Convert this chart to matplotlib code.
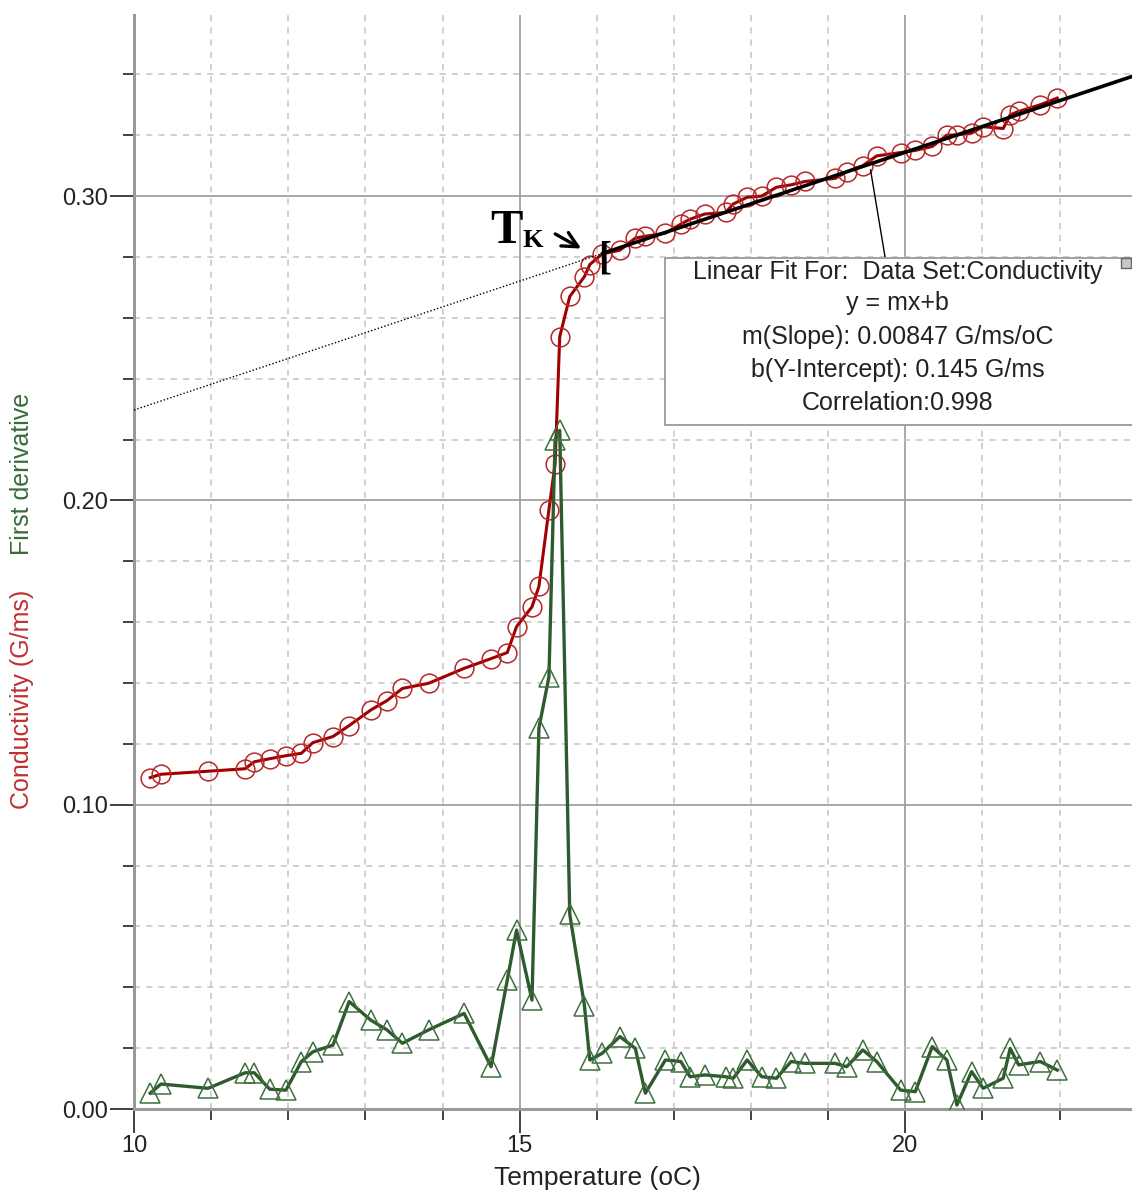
import matplotlib as mpl
mpl.use('Agg')
import matplotlib.pyplot as plt
from matplotlib.patches import Rectangle
from matplotlib.ticker import MultipleLocator, FixedLocator

plt.rcParams['font.family'] = ['Liberation Sans', 'DejaVu Sans']

# Data
temperature = [10.21, 10.35, 10.96, 11.44, 11.56, 11.76, 11.97, 12.17, 12.32, 12.58,
               12.79, 13.07, 13.28, 13.48, 13.82, 14.28, 14.63, 14.84, 14.96, 15.16,
               15.25, 15.38, 15.46, 15.52, 15.65, 15.84, 15.91, 16.07, 16.30, 16.50,
               16.63, 16.89, 17.09, 17.21, 17.40, 17.67, 17.77, 17.95, 18.14, 18.33,
               18.52, 18.70, 19.09, 19.24, 19.45, 19.63, 19.94, 20.13, 20.35, 20.54,
               20.67, 20.86, 21.01, 21.27, 21.36, 21.47, 21.75, 21.97]
conductivity = [0.1089, 0.1100, 0.1110, 0.1118, 0.1141, 0.1151, 0.1161, 0.1169, 0.1204, 0.1224,
                0.1260, 0.1311, 0.1342, 0.1382, 0.1399, 0.1448, 0.1480, 0.1500, 0.1585, 0.1650,
                0.1717, 0.1970, 0.2119, 0.2538, 0.2670, 0.2735, 0.2775, 0.2810, 0.2822, 0.2862,
                0.2868, 0.2878, 0.2908, 0.2924, 0.2941, 0.2946, 0.2974, 0.2996, 0.3000, 0.3029,
                0.3037, 0.3048, 0.3058, 0.3080, 0.3100, 0.3132, 0.3143, 0.3150, 0.3163, 0.3200,
                0.3201, 0.3207, 0.3228, 0.3222, 0.3267, 0.3278, 0.3300, 0.3322]
first_derivative = [0.0052, 0.0082, 0.0068, 0.0119, 0.0119, 0.0065, 0.0062, 0.0156, 0.0188, 0.0210,
                    0.0353, 0.0292, 0.0260, 0.0216, 0.0260, 0.0314, 0.0139, 0.0424, 0.0588, 0.0358,
                    0.1252, 0.1420, 0.2200, 0.2230, 0.0640, 0.0340, 0.0161, 0.0183, 0.0238, 0.0199,
                    0.0052, 0.0161, 0.0156, 0.0106, 0.0112, 0.0106, 0.0101, 0.0161, 0.0106, 0.0101,
                    0.0156, 0.0150, 0.0150, 0.0139, 0.0194, 0.0156, 0.0062, 0.0057, 0.0205, 0.0161,
                    0.0013, 0.0123, 0.0068, 0.0101, 0.0199, 0.0145, 0.0156, 0.0128]

fit_slope = 0.00847
fit_intercept = 0.145
fit_start = 16.08
fit_lines = ['Linear Fit For:  Data Set:Conductivity',
             'y = mx+b',
             'm(Slope): 0.00847 G/ms/oC',
             'b(Y-Intercept): 0.145 G/ms',
             'Correlation:0.998']

x_min, x_max = 10, 22.94
y_min, y_max = 0, 0.3595
yticks_major = [0.0, 0.1, 0.2, 0.3]
ytick_labels = ['0.00', '0.10', '0.20', '0.30']

red = '#a00000'
red_marker = '#b82828'
green = '#2e5a2e'
green_marker = '#3f6f3f'

fig = plt.figure(figsize=(11.32, 11.95), dpi=100)
ax = fig.add_axes([134 / 1132, 1 - 1109 / 1195, 1 - 134 / 1132, (1109 - 15) / 1195])
ax.set_xlim(x_min, x_max)
ax.set_ylim(y_min, y_max)

# grid + ticks
ax.xaxis.set_major_locator(MultipleLocator(5))
ax.xaxis.set_minor_locator(MultipleLocator(1))
ax.yaxis.set_major_locator(FixedLocator(yticks_major))
ax.yaxis.set_minor_locator(MultipleLocator(0.02))
ax.set_yticklabels(ytick_labels)
ax.grid(which='major', color='#a0a0a0', lw=1.3, ls='-')
ax.grid(which='minor', color='#c4c4c4', lw=1.1, ls=(0, (4, 4)))
ax.set_axisbelow(True)
ax.tick_params(which='major', direction='out', length=17, width=1.3, color='#333333',
               labelsize=17, labelcolor='#222222', pad=2)
ax.tick_params(which='minor', direction='out', length=8, width=1.3, color='#333333')
for s in ['top', 'right']:
    ax.spines[s].set_visible(False)
for s in ['left', 'bottom']:
    ax.spines[s].set_color('#9a9a9a')
    ax.spines[s].set_linewidth(2.2)

# linear fit: dotted extrapolation, solid over the fitted range
ax.plot([x_min, fit_start], [fit_slope * x_min + fit_intercept, fit_slope * fit_start + fit_intercept],
        ls=(0, (1, 1.5)), color='k', lw=1.0, zorder=4)
ax.plot([fit_start, x_max], [fit_slope * fit_start + fit_intercept, fit_slope * x_max + fit_intercept],
        color='k', lw=2.6, zorder=4)
ax.text(fit_start + 0.02, fit_slope * fit_start + fit_intercept - 0.002, '[', fontsize=28,
        fontweight='bold', family='Liberation Serif', ha='center', va='center', zorder=6)

# conductivity
ax.plot(temperature, conductivity, color=red, lw=2.2, zorder=3)
ax.plot(temperature, conductivity, ls='none', marker='o', ms=13.5, mfc='none', mec=red_marker,
        mew=1.1, zorder=3)

# first derivative
ax.plot(temperature, first_derivative, color=green, lw=2.4, zorder=5)
ax.plot(temperature, first_derivative, ls='none', marker='^', ms=15, mfc='none', mec=green_marker,
        mew=1.1, zorder=5)

# fit info box
ax.plot([19.55, 19.74], [0.3086, 0.2797], color='k', lw=1, zorder=5)
ax.add_patch(Rectangle((16.887, 0.2248), 8, 0.0549, facecolor='white', edgecolor='#9a9a9a',
                       lw=1.3, zorder=6))
ax.add_patch(Rectangle((22.80, 0.2764), 0.13, 0.0033, facecolor='#c8c8c8', edgecolor='#666666',
                       lw=1, zorder=7))
line_y = [0.2752, 0.2647, 0.2537, 0.2428, 0.2320]
for txt, yy in zip(fit_lines, line_y):
    ax.text(19.90, yy, txt, fontsize=18, ha='center', va='center', color='#222222', zorder=7)

# T_K label
ax.text(14.83, 0.2846, 'T', fontsize=35, fontweight='bold', family='Liberation Serif',
        ha='center', va='baseline')
ax.text(15.04, 0.2834, 'K', fontsize=19, fontweight='bold', family='Liberation Serif',
        ha='left', va='baseline')
ax.annotate('', xy=(15.83, 0.2823), xytext=(15.43, 0.2880),
            arrowprops=dict(arrowstyle='->,head_length=1.1,head_width=0.55', lw=2.4, color='k'))

# axis labels
fig.text(22 / 1132, 1 - 699 / 1195, 'Conductivity (G/ms)', rotation=90, color='#c03030',
         fontsize=18, ha='center', va='center')
fig.text(22 / 1132, 1 - 474 / 1195, 'First derivative', rotation=90, color='#3a6b3a',
         fontsize=18, ha='center', va='center')
fig.text(597 / 1132, 1 - 1178 / 1195, 'Temperature (oC)', color='#222222',
         fontsize=19, ha='center', va='center')

plt.savefig('out.png', dpi=100)
plt.close()
